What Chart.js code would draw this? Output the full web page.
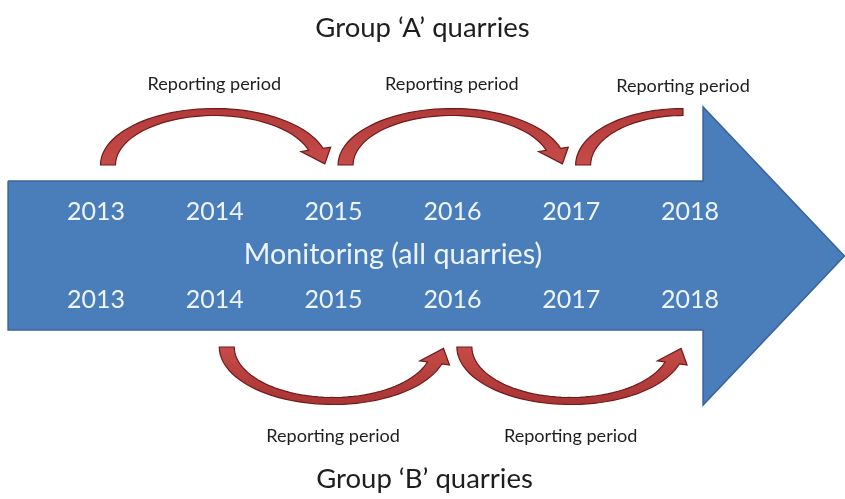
<!DOCTYPE html>
<html>
<head>
<meta charset="utf-8">
<script src="https://cdn.jsdelivr.net/npm/chart.js@4.4.1/dist/chart.umd.min.js"></script>
<style>
  html, body { margin: 0; padding: 0; background: #fff; }
  #wrap { width: 845px; height: 499px; }
</style>
</head>
<body>
<div id="wrap"><canvas id="chart" width="845" height="499"></canvas></div>
<script>
const years = [2013, 2014, 2015, 2016, 2017, 2018];
const groupAPeriods = [[2013, 2015], [2015, 2017], [2017, 2019]];
const groupBPeriods = [[2014, 2016], [2016, 2018]];
const titleA = 'Group ‘A’ quarries';
const titleB = 'Group ‘B’ quarries';
const periodLabel = 'Reporting period';
const bandLabel = 'Monitoring (all quarries)';

const FONT = 'Lato, "Open Sans", sans-serif';

// x axis runs in years, y axis in rows from the top of the picture
const X_MIN = 2012.192;
const X_MAX = 2019.305;

// outline of the big timeline arrow
const bandOutline = () => {
  const left = 2012.26;
  const base = 2018.11;
  const tip = 2019.30;
  return [
    { x: left, y: 181 },
    { x: base, y: 181 },
    { x: base, y: 107 },
    { x: tip, y: 256 },
    { x: base, y: 405 },
    { x: base, y: 330 },
    { x: left, y: 330 },
    { x: left, y: 181 },
  ];
};

const fitFont = (ctx, text, width) => {
  ctx.font = `100px ${FONT}`;
  const size = (100 * width) / ctx.measureText(text).width;
  return `${size.toFixed(1)}px ${FONT}`;
};

// tapered curved arrow like the office "curved down / up arrow" shape
const curvedArrow = (ctx, tx, ex, yb, ry, dir, open) => {
  const cx = (tx + ex) / 2;
  const rx = (ex - tx) / 2;
  const a = 7.5;
  const b = 3.5;
  const end = open ? Math.PI / 2 : 0.3;
  const n = 48;
  const outer = [];
  const inner = [];
  for (let i = 0; i <= n; i++) {
    const t = Math.PI + ((end - Math.PI) * i) / n;
    outer.push([cx + (rx + a) * Math.cos(t), yb + dir * (ry + b) * Math.sin(t)]);
    inner.push([cx + (rx - a) * Math.cos(t), yb + dir * (ry - b) * Math.sin(t)]);
  }
  ctx.beginPath();
  outer.forEach(([px, py], i) => (i ? ctx.lineTo(px, py) : ctx.moveTo(px, py)));
  if (!open) {
    const o = outer[n];
    const q = inner[n];
    const mx = (o[0] + q[0]) / 2;
    const my = (o[1] + q[1]) / 2;
    let ux = o[0] - q[0];
    let uy = o[1] - q[1];
    const ul = Math.hypot(ux, uy);
    ux /= ul;
    uy /= ul;
    let dx = rx * Math.sin(end);
    let dy = -dir * ry * Math.cos(end);
    const dl = Math.hypot(dx, dy);
    dx /= dl;
    dy /= dl;
    ctx.lineTo(mx + ux * 15, my + uy * 15);
    ctx.lineTo(mx + dx * 17, my + dy * 17);
    ctx.lineTo(mx - ux * 15, my - uy * 15);
  }
  for (let i = n; i >= 0; i--) {
    ctx.lineTo(inner[i][0], inner[i][1]);
  }
  ctx.closePath();
  const g = ctx.createLinearGradient(0, yb - ry - b, 0, yb + ry + b);
  g.addColorStop(0, '#b23a3a');
  g.addColorStop(0.5, '#c54c48');
  g.addColorStop(1, '#a83434');
  ctx.fillStyle = g;
  ctx.strokeStyle = '#6e1a1a';
  ctx.lineWidth = 1.2;
  ctx.fill();
  ctx.stroke();
  return cx;
};

const diagram = {
  id: 'diagram',
  afterDatasetsDraw(chart) {
    const { ctx } = chart;
    const x = chart.scales.x;
    const y = chart.scales.y;
    const last = years[years.length - 1];
    ctx.save();

    // reporting periods, group A above and group B below
    ctx.textAlign = 'center';
    ctx.textBaseline = 'alphabetic';
    groupAPeriods.forEach(([s, e]) => {
      const open = e > last;
      const cx = curvedArrow(
        ctx,
        x.getPixelForValue(s) + 12,
        x.getPixelForValue(e) - (open ? 26 : 13),
        y.getPixelForValue(165),
        53,
        -1,
        open
      );
      ctx.fillStyle = '#1e1e1e';
      ctx.font = fitFont(ctx, periodLabel, 134);
      ctx.fillText(periodLabel, cx, y.getPixelForValue(open ? 92 : 90));
    });
    groupBPeriods.forEach(([s, e]) => {
      const cx = curvedArrow(
        ctx,
        x.getPixelForValue(s) + 12,
        x.getPixelForValue(e) - 13,
        y.getPixelForValue(347),
        54,
        1,
        false
      );
      ctx.fillStyle = '#1e1e1e';
      ctx.font = fitFont(ctx, periodLabel, 134);
      ctx.fillText(periodLabel, cx, y.getPixelForValue(442));
    });

    // titles
    ctx.fillStyle = '#1e1e1e';
    ctx.font = fitFont(ctx, titleA, 214);
    ctx.fillText(titleA, chart.width / 2, y.getPixelForValue(37));
    ctx.fillText(titleB, chart.width / 2 + 2, y.getPixelForValue(488));

    // years and band label on the timeline
    ctx.fillStyle = '#eef4fb';
    ctx.font = fitFont(ctx, '2013', 58);
    years.forEach((yr) => {
      ctx.fillText(String(yr), x.getPixelForValue(yr), y.getPixelForValue(220));
      ctx.fillText(String(yr), x.getPixelForValue(yr), y.getPixelForValue(308));
    });
    const mid = (years[0] + last) / 2;
    ctx.font = fitFont(ctx, bandLabel, 298);
    ctx.fillText(bandLabel, x.getPixelForValue(mid), y.getPixelForValue(264));

    ctx.restore();
  },
};

new Chart(document.getElementById('chart'), {
  type: 'scatter',
  data: {
    datasets: [
      {
        label: bandLabel,
        data: bandOutline(),
        showLine: true,
        fill: 'shape',
        backgroundColor: '#4a7ebb',
        borderColor: '#3a649a',
        borderWidth: 1.5,
        borderJoinStyle: 'miter',
        pointRadius: 0,
        tension: 0,
      },
    ],
  },
  options: {
    responsive: false,
    animation: false,
    layout: { padding: 0 },
    scales: {
      x: { type: 'linear', display: false, min: X_MIN, max: X_MAX },
      y: { type: 'linear', display: false, min: 0, max: 499, reverse: true },
    },
    plugins: {
      legend: { display: false },
      tooltip: { enabled: false },
    },
  },
  plugins: [diagram],
});
</script>
</body>
</html>
